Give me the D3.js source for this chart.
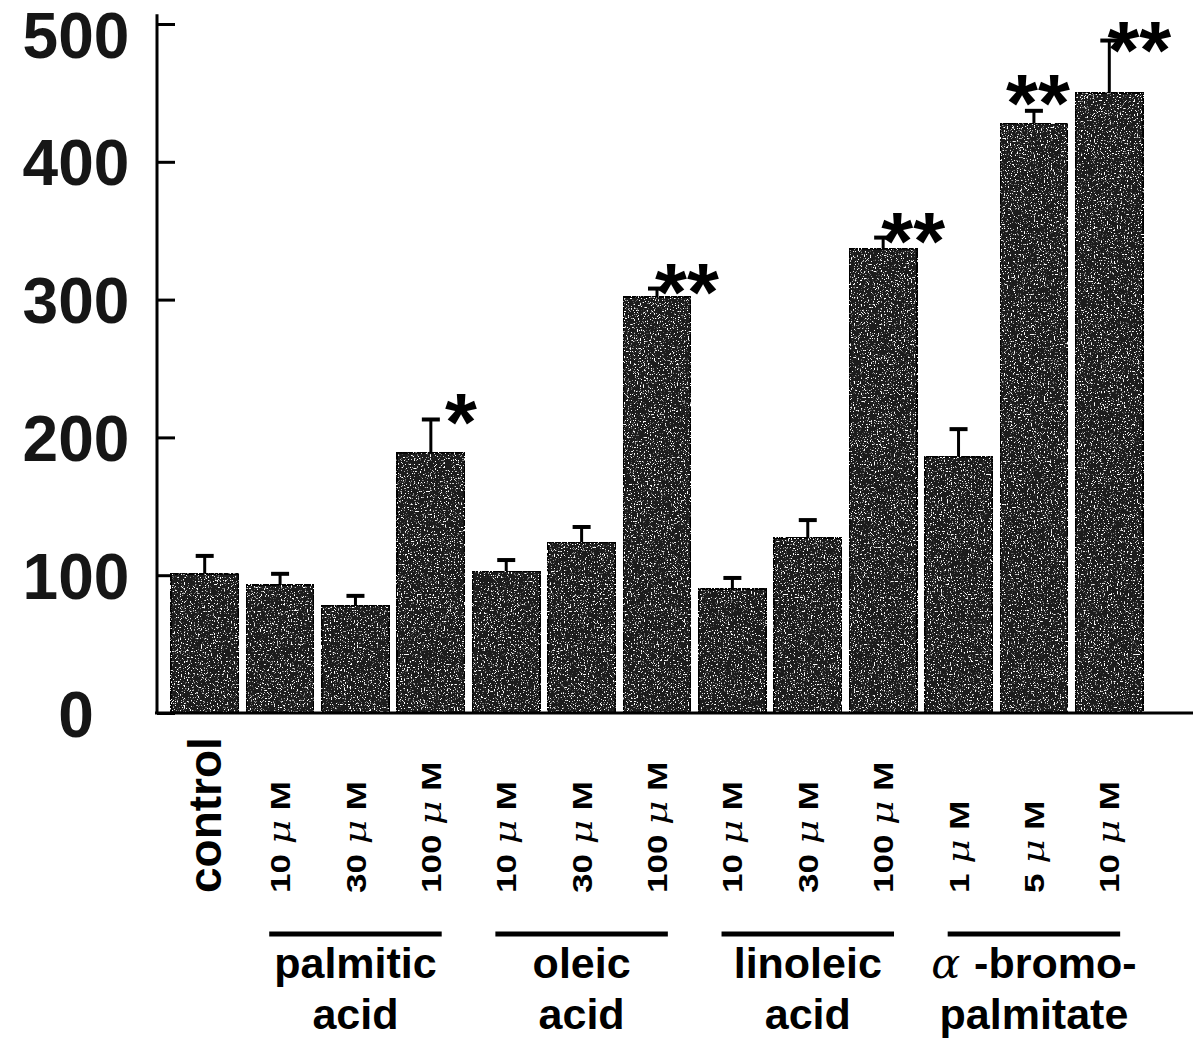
<!DOCTYPE html>
<html>
<head>
<meta charset="utf-8">
<script src="https://cdn.jsdelivr.net/npm/d3@7"></script>
<style>
  body { margin: 0; background: #fff; }
  text { font-family: "Liberation Sans", Arial, sans-serif; font-weight: bold; }
</style>
</head>
<body>
<svg id="chart" width="1200" height="1053"></svg>
<script>
// values (% of control)
var doseLabels = ["control", "10", "30", "100", "10", "30", "100", "10", "30", "100", "1", "5", "10"];
var means  = [101, 93, 78, 189, 103, 124, 302, 90, 127, 337, 186, 428, 450];
var errors = [13, 8, 7, 24, 8, 11, 6, 8, 13, 8, 20, 9, 38];
var stars  = ["", "", "", "*", "", "", "**", "", "", "**", "", "**", "**"];

var groupLines1 = ["palmitic", "oleic", "linoleic", "-bromo-"];
var groupLines2 = ["acid", "acid", "acid", "palmitate"];
var groupPrefix = ["", "", "", "\u03b1 "];
var groupFirst  = [1, 4, 7, 10];
var groupLast   = [3, 6, 9, 12];

var yTicks = [0, 100, 200, 300, 400, 500];

var svg = d3.select("#chart");

// speckled halftone look of the printed bars
var defs = svg.append("defs");
var flt = defs.append("filter")
    .attr("id", "speckle")
    .attr("x", 0).attr("y", 0).attr("width", "100%").attr("height", "100%")
    .attr("color-interpolation-filters", "sRGB");
flt.append("feTurbulence")
    .attr("type", "fractalNoise")
    .attr("baseFrequency", 0.7)
    .attr("numOctaves", 2)
    .attr("seed", 4)
    .attr("result", "noise");
flt.append("feColorMatrix")
    .attr("in", "noise")
    .attr("type", "matrix")
    .attr("values", "0 0 0 0 1  0 0 0 0 1  0 0 0 0 1  9 0 0 0 -5.3")
    .attr("result", "dots");
flt.append("feComposite")
    .attr("in", "dots")
    .attr("in2", "SourceGraphic")
    .attr("operator", "atop");

var g = svg.append("g");

var x = d3.scaleBand()
    .domain(d3.range(means.length))
    .range([167, 1147])
    .paddingInner(0.1)
    .paddingOuter(0.05);
var y = d3.scaleLinear().domain([0, 500]).range([713, 24]);
var bw = x.bandwidth();

// y axis
var yAxis = d3.axisLeft(y)
    .tickValues(yTicks)
    .tickSizeInner(-18)
    .tickSizeOuter(0)
    .tickPadding(81);
var ya = g.append("g")
    .attr("transform", "translate(157,0)")
    .call(yAxis);
ya.select(".domain").remove();
ya.selectAll(".tick line").attr("stroke", "#000").attr("stroke-width", 3);
ya.selectAll(".tick text")
    .attr("text-anchor", "middle")
    .attr("font-size", 64)
    .attr("fill", "#161616")
    .attr("dy", function(d){ return d === 500 ? "0.52em" : "0.36em"; });
ya.append("line")
    .attr("x1", 0).attr("x2", 0)
    .attr("y1", y(0)).attr("y2", y(507))
    .attr("stroke", "#000").attr("stroke-width", 3);

// bars
g.selectAll(".bar")
    .data(means)
    .enter()
    .append("rect")
    .attr("class", "bar")
    .attr("x", function(d, i){ return x(i); })
    .attr("y", function(d){ return y(d); })
    .attr("width", bw)
    .attr("height", function(d){ return y(0) - y(d); })
    .attr("fill", "#1c1c1c")
    .attr("stroke", "#000")
    .attr("stroke-width", 2)
    .attr("filter", "url(#speckle)");

// error bars (upper only)
var eb = g.selectAll(".err")
    .data(means)
    .enter()
    .append("g")
    .attr("class", "err");
eb.append("line")
    .attr("x1", function(d, i){ return x(i) + bw / 2; })
    .attr("x2", function(d, i){ return x(i) + bw / 2; })
    .attr("y1", function(d){ return y(d); })
    .attr("y2", function(d, i){ return y(d + errors[i]); })
    .attr("stroke", "#000").attr("stroke-width", 3);
eb.append("line")
    .attr("x1", function(d, i){ return x(i) + bw / 2 - 9; })
    .attr("x2", function(d, i){ return x(i) + bw / 2 + 9; })
    .attr("y1", function(d, i){ return y(d + errors[i]); })
    .attr("y2", function(d, i){ return y(d + errors[i]); })
    .attr("stroke", "#000").attr("stroke-width", 4);

// significance stars: to the right of the error bar, unless the next bar
// is taller, then centred above the bar
var starSize = 82;
function capY(i){ return y(means[i] + errors[i]); }
function starBlocked(i){ return i + 1 < means.length && capY(i + 1) < capY(i); }
g.selectAll(".star")
    .data(stars)
    .enter()
    .append("text")
    .attr("class", "star")
    .attr("text-anchor", "middle")
    .attr("x", function(d, i){ return x(i) + bw / 2 + (starBlocked(i) ? 4 : 30); })
    .attr("y", function(d, i){
      var b = capY(i) + (starBlocked(i) ? -26 : -15) + 46;
      return Math.max(b, starSize * 0.95);   // keep inside the top edge
    })
    .attr("font-size", starSize)
    .attr("fill", "#000")
    .text(function(d){ return d; });

// x axis line
g.append("line")
    .attr("x1", 155).attr("x2", 1193)
    .attr("y1", y(0)).attr("y2", y(0))
    .attr("stroke", "#000").attr("stroke-width", 3);

// dose labels (rotated)
var dl = g.selectAll(".dose")
    .data(doseLabels)
    .enter()
    .append("text")
    .attr("class", "dose")
    .attr("transform", function(d, i){
      var s = i === 0 ? "" : " scale(1.25,1)";
      return "translate(" + (x(i) + bw / 2) + ",893) rotate(-90)" + s;
    })
    .attr("dy", "0.36em")
    .attr("font-size", function(d, i){ return i === 0 ? 46 : 28; })
    .attr("fill", "#000");
dl.each(function(d, i){
  var t = d3.select(this);
  if(i === 0){ t.text(d); return; }
  t.append("tspan").text(d + " ");
  t.append("tspan").attr("font-family", "DejaVu Serif").attr("font-style", "italic").attr("font-weight", "normal").attr("font-size", 30).text("\u03bc");
  t.append("tspan").text(" M");
});

// group brackets and names
groupFirst.forEach(function(f, k){
  var l = groupLast[k];
  var cx = (x(f) + x(l) + bw) / 2;
  g.append("line")
      .attr("x1", x(f) + bw * 0.34)
      .attr("x2", x(l) + bw * 0.66)
      .attr("y1", 934).attr("y2", 934)
      .attr("stroke", "#000").attr("stroke-width", 5);
  var t1 = g.append("text")
      .attr("x", cx).attr("y", 978)
      .attr("text-anchor", "middle")
      .attr("font-size", 43)
      .attr("fill", "#000");
  if(groupPrefix[k]){
    t1.append("tspan").attr("font-family", "DejaVu Serif").attr("font-style", "italic").attr("font-weight", "normal").text(groupPrefix[k]);
  }
  t1.append("tspan").text(groupLines1[k]);
  g.append("text")
      .attr("x", cx).attr("y", 1029)
      .attr("text-anchor", "middle")
      .attr("font-size", 43)
      .attr("fill", "#000")
      .text(groupLines2[k]);
});
</script>
</body>
</html>
